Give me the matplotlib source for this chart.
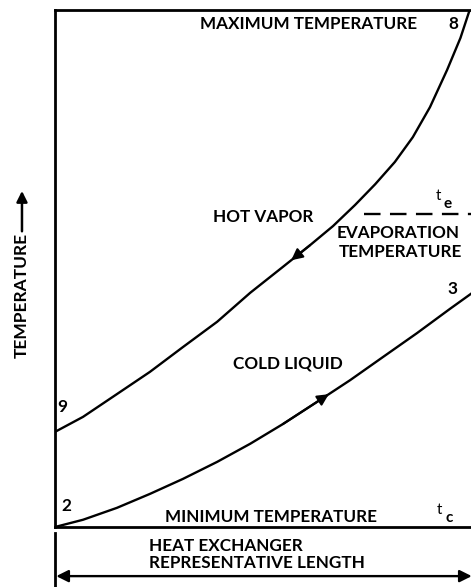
import numpy as np
import matplotlib.pyplot as plt

# Temperature profiles along the heat exchanger (length and temperature normalised 0..1)
hot_x = [0.0, 0.067, 0.148, 0.227, 0.306, 0.388, 0.467, 0.545, 0.610, 0.665,
         0.718, 0.766, 0.813, 0.856, 0.897, 0.938, 0.970, 0.992]
hot_y = [0.184, 0.213, 0.257, 0.300, 0.348, 0.397, 0.453, 0.503, 0.545, 0.582,
         0.623, 0.663, 0.706, 0.754, 0.812, 0.884, 0.946, 1.0]

cold_x = [0.0, 0.067, 0.148, 0.227, 0.306, 0.388, 0.467, 0.545, 0.627, 0.706,
          0.785, 0.866, 0.945, 0.995]
cold_y = [0.0, 0.014, 0.037, 0.064, 0.093, 0.126, 0.161, 0.199, 0.242, 0.284,
          0.329, 0.375, 0.422, 0.451]

evap_temp = 0.605
point_labels = ["9", "8", "2", "3"]

FONT = "Lato"
FS = 12.3
WEIGHT = "bold"

fig = plt.figure(figsize=(4.71, 5.87), dpi=100)
ax = fig.add_axes([55 / 471, 1 - 527 / 587, 418 / 471, 517 / 587])
ax.set_xlim(0, 1.0)
ax.set_ylim(0, 1)
ax.set_xticks([])
ax.set_yticks([])
ax.spines["right"].set_visible(False)
for s in ["left", "top", "bottom"]:
    ax.spines[s].set_linewidth(2.0)

# curves
ax.plot(hot_x, hot_y, color="black", lw=1.7, solid_joinstyle="round")
ax.plot(cold_x, cold_y, color="black", lw=1.7, solid_joinstyle="round")

# flow direction arrows (hot flows toward the left, cold toward the right)
arrow = dict(arrowstyle="-|>", color="black", lw=1.5, mutation_scale=17, shrinkA=0, shrinkB=0)
hx = 0.565
ax.annotate("", xy=(hx, np.interp(hx, hot_x, hot_y)), xytext=(hot_x[8], hot_y[8]), arrowprops=arrow)
cx = 0.655
ax.annotate("", xy=(cx, np.interp(cx, cold_x, cold_y)), xytext=(cold_x[7], cold_y[7]), arrowprops=arrow)

# evaporation temperature line
ax.plot([0.74, 1.0], [evap_temp, evap_temp], color="black", lw=1.7, dashes=(7, 4))

txt = dict(family=FONT, fontsize=FS, fontweight=WEIGHT, color="black", va="center")
ax.text(0.347, 0.973, "MAXIMUM TEMPERATURE", ha="left", **txt)
ax.text(0.952, 0.973, point_labels[1], ha="center", **txt)
ax.text(0.377, 0.600, "HOT VAPOR", ha="left", **txt)
ax.text(0.673, 0.569, "EVAPORATION", ha="left", **txt)
ax.text(0.680, 0.532, "TEMPERATURE", ha="left", **txt)
ax.text(0.950, 0.460, point_labels[3], ha="center", **txt)
ax.text(0.425, 0.317, "COLD LIQUID", ha="left", **txt)
ax.text(0.017, 0.232, point_labels[0], ha="center", **txt)
ax.text(0.026, 0.041, point_labels[2], ha="center", **txt)
ax.text(0.262, 0.019, "MINIMUM TEMPERATURE", ha="left", **txt)

# t_e and t_c symbols
ax.text(0.918, 0.641, "t", ha="center", family=FONT, fontsize=11, va="center")
ax.text(0.940, 0.625, "e", ha="center", family=FONT, fontsize=11, fontweight="bold", va="center")
ax.text(0.920, 0.033, "t", ha="center", family=FONT, fontsize=11, va="center")
ax.text(0.942, 0.018, "c", ha="center", family=FONT, fontsize=11, fontweight="bold", va="center")

# y-axis label with arrow
ax.text(-0.079, 0.447, "TEMPERATURE", rotation=90, ha="center", va="center",
        family=FONT, fontsize=12.5, fontweight=WEIGHT)
ax.annotate("", xy=(-0.079, 0.650), xytext=(-0.079, 0.572), xycoords="axes fraction",
            arrowprops=dict(arrowstyle="-|>", color="black", lw=1.8, mutation_scale=16, shrinkA=0, shrinkB=0),
            annotation_clip=False)

# length dimension below the axes
ax.plot([0, 0], [-0.012, -0.125], color="black", lw=2.0, clip_on=False, transform=ax.transAxes)
ax.annotate("", xy=(0.003, -0.095), xytext=(0.997, -0.095), xycoords="axes fraction",
            arrowprops=dict(arrowstyle="<|-|>", color="black", lw=1.7, mutation_scale=18, shrinkA=0, shrinkB=0),
            annotation_clip=False)
ax.text(0.224, -0.037, "HEAT EXCHANGER", ha="left", va="center", family=FONT, fontsize=FS,
        fontweight=WEIGHT, transform=ax.transAxes)
ax.text(0.224, -0.070, "REPRESENTATIVE LENGTH", ha="left", va="center", family=FONT, fontsize=FS,
        fontweight=WEIGHT, transform=ax.transAxes)

fig.savefig("out.png", dpi=100)
